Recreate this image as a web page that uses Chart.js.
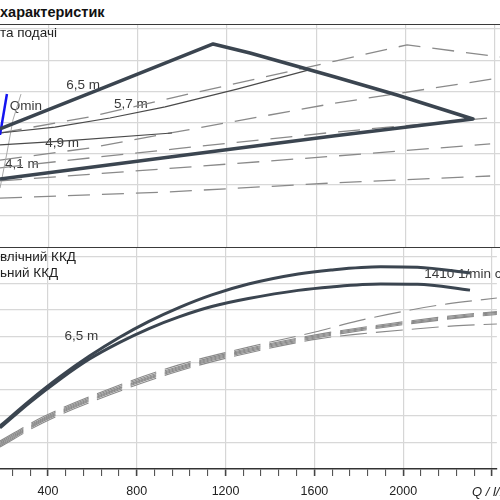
<!DOCTYPE html>
<html>
<head>
<meta charset="utf-8">
<script src="https://cdn.jsdelivr.net/npm/chart.js@4.4.0/dist/chart.umd.min.js"></script>
<style>
  html, body { margin:0; padding:0; background:#fff; overflow:hidden; }
  #wrap { position:relative; width:500px; height:500px; overflow:hidden; font-family:"Liberation Sans", Arial, sans-serif; color:#222; }
  .txt { position:absolute; white-space:nowrap; font-size:13.5px; line-height:14px; }
  .rule { position:absolute; left:0; width:500px; height:1.5px; background:#3a3a3a; }
  #top { position:absolute; left:0; top:24px; width:500px; height:223px; }
  #bot { position:absolute; left:0; top:247px; width:500px; height:253px; }
</style>
</head>
<body>
<div id="wrap">
  <div id="top"><canvas id="upper"></canvas></div>
  <div id="bot"><canvas id="lower"></canvas></div>
  <div class="txt" style="left:0;top:4px;font-size:14.5px;line-height:16px;font-weight:bold;color:#111">характеристик</div>
  <div class="rule" style="top:23.5px"></div>
  <div class="txt" style="left:0;top:26px">та подачі</div>
  <div class="rule" style="top:246.5px"></div>
  <div class="txt" style="left:0;top:250px">влічний ККД</div>
  <div class="txt" style="left:0;top:266px">ьний ККД</div>
  <div class="txt" style="left:472px;top:485px;font-size:13px;font-style:italic">Q / l/min</div>
</div>
<script>
// x axis (Q, l/min)
var qTicks = [240, 320, 400, 480, 560, 640, 720, 800, 880, 960, 1040, 1120, 1200, 1280,
              1360, 1440, 1520, 1600, 1680, 1760, 1840, 1920, 2000, 2080, 2160, 2240, 2320, 2400];
var qLabels = ['400', '800', '1200', '1600', '2000'];
var upperTicks = [0, 1, 2, 3, 4, 5, 6, 7];
var lowerTicks = [0, 10, 20, 30, 40, 50, 60, 70, 80];

// upper panel - operating field (thick outline)
var envQ = [184, 632, 1138, 1303, 1684, 1961, 2301, 1684, 945, 184];
var envP = [3.79, 5.07, 6.52, 6.23, 5.46, 4.88, 4.11, 3.57, 2.89, 2.18];

// Qmin
var qminBlueQ = [184, 215];
var qminBlueP = [3.60, 4.91];
var qminGrayQ = [278, 242, 215, 184];
var qminGrayP = [4.91, 4.08, 3.02, 1.89];

// 5,7 m and 4,9 m (solid)
var h57Q = [184, 430, 676, 923, 1245, 1563];
var h57P = [3.66, 3.85, 4.14, 4.50, 5.07, 5.68];
var h49Q = [184, 462, 954];
var h49P = [3.28, 3.40, 3.66];

// dashed curves
var d1Q = [184, 587, 954, 1549, 1684, 2006, 2422];
var d1P = [3.66, 4.18, 4.79, 5.75, 5.97, 6.49, 6.10];
var d2Q = [184, 587, 923, 1684, 2422];
var d2P = [2.79, 3.18, 3.63, 4.62, 5.43];
var d3Q = [184, 587, 967, 1684, 2364];
var d3P = [2.54, 2.86, 3.15, 3.69, 4.14];
var d4Q = [184, 976, 1684, 2378];
var d4P = [2.12, 2.54, 2.92, 3.31];
var d5Q = [184, 945, 1684, 2378];
var d5P = [1.57, 1.77, 2.06, 2.28];

// lower panel - ККД, %
var eQ = [184, 318, 453, 587, 721, 855, 990, 1138, 1303, 1527, 1675, 1899, 2064, 2301];
var etaHyd = [16.2, 25.8, 34.7, 42.6, 49.6, 55.7, 60.9, 65.7, 69.8, 73.6, 75.1, 76.3, 76.1, 74.0];
var etaTot = [15.5, 25.1, 33.8, 41.5, 47.7, 53.0, 57.4, 61.3, 64.3, 67.4, 68.7, 69.8, 69.7, 67.5];

var l1Q = [184, 376, 676, 990, 1303, 1603, 1796, 2033, 2199, 2422];
var l1E = [10.6, 19.6, 30.2, 39.3, 46.0, 51.7, 55.9, 60.0, 62.3, 64.5];
var bQ = [184, 376, 676, 990, 1303, 1617, 1943, 2275, 2422];
var l2E = [10.1, 19.1, 29.7, 38.7, 45.5, 50.8, 54.9, 58.3, 59.4];
var l3E = [9.6, 18.7, 29.2, 38.3, 45.1, 50.4, 54.5, 57.9, 59.1];
var l4E = [9.2, 18.3, 28.9, 37.9, 44.7, 50.0, 54.2, 57.5, 58.7];
var l5E = [8.8, 17.9, 28.5, 37.5, 44.3, 49.6, 53.8, 57.2, 58.3];
var l6Q = [184, 376, 676, 990, 1303, 1617, 1796, 2051, 2230, 2422];
var l6E = [8.3, 17.4, 27.9, 37.0, 43.8, 49.1, 50.9, 52.8, 54.0, 54.7];

// labels [text, Q, value, align]
var upperLabels = [['6,5 m', 556, 5.20], ['5,7 m', 770, 4.59], ['Qmin', 300, 4.53],
                   ['4,9 m', 462, 3.34], ['4,1 m', 282, 2.67]];
var lowerLabels = [['6,5 m', 551, 50.2], ['1410 1/min c', 2095, 73.6, 'left']];

var DARK = '#3b4550';
var DASH = '#8a8a8a';
var FONT = '"Liberation Sans", Arial, sans-serif';

function pts(qs, vs) {
	return qs.map(function(q, i) { return {x: q, y: vs[i]}; });
}

function line(qs, vs, color, width, dash, smooth) {
	return {
		data: pts(qs, vs),
		borderColor: color,
		borderWidth: width,
		borderDash: dash || [],
		borderJoinStyle: 'round',
		pointRadius: 0,
		fill: false,
		tension: 0,
		cubicInterpolationMode: smooth ? 'monotone' : 'default'
	};
}

function labelPlugin(items) {
	return {
		id: 'labels',
		beforeDatasetsDraw: function(chart) {
			var ctx = chart.ctx, xs = chart.scales.x, ys = chart.scales.y;
			ctx.save();
			ctx.font = '13.5px ' + FONT;
			ctx.fillStyle = '#3a3a3a';
			ctx.textBaseline = 'middle';
			items.forEach(function(it) {
				ctx.textAlign = it[3] || 'center';
				ctx.fillText(it[0], xs.getPixelForValue(it[1]), ys.getPixelForValue(it[2]));
			});
			ctx.restore();
		}
	};
}

function isMajor(c) {
	return c.tick && c.tick.value % 400 === 0;
}
function majorGrid(c) {
	return isMajor(c) ? '#d6d6d6' : 'rgba(0,0,0,0)';
}
function hGrid(c) {
	return c.tick && c.tick.value === 0 ? 'rgba(0,0,0,0)' : '#d8d8d8';
}
function setTicks(list) {
	return function(s) { s.ticks = list.map(function(v) { return {value: v}; }); };
}

Chart.defaults.font.family = FONT;

// upper chart
new Chart(document.getElementById('upper').getContext('2d'), {
	type: 'line',
	data: {
		datasets: [
			line(envQ, envP, DARK, 3.5),
			line(qminBlueQ, qminBlueP, '#1414f0', 2.5),
			line(h57Q, h57P, '#4a4a4a', 1.1),
			line(h49Q, h49P, '#4a4a4a', 1.1),
			line(qminGrayQ, qminGrayP, '#a8a8a8', 1),
			line(d1Q, d1P, DASH, 1.3, [22, 12]),
			line(d2Q, d2P, DASH, 1.3, [22, 12]),
			line(d3Q, d3P, DASH, 1.3, [22, 12]),
			line(d4Q, d4P, DASH, 1.3, [22, 12]),
			line(d5Q, d5P, DASH, 1.3, [22, 12])
		]
	},
	options: {
		responsive: true,
		maintainAspectRatio: false,
		animation: false,
		layout: { padding: 0, autoPadding: false },
		plugins: { legend: { display: false }, tooltip: { enabled: false } },
		scales: {
			x: {
				type: 'linear', min: 184, max: 2422,
				afterBuildTicks: setTicks(qTicks),
				afterFit: function(s) { s.height = 0; },
				ticks: { display: false },
				grid: { color: majorGrid, drawTicks: false, lineWidth: 1.2 },
				border: { display: false }
			},
			y: {
				type: 'linear', min: 0, max: 7.16,
				afterBuildTicks: setTicks(upperTicks),
				afterFit: function(s) { s.width = 0; },
				ticks: { display: false },
				grid: { color: hGrid, drawTicks: false, lineWidth: 1.2 },
				border: { display: false }
			}
		}
	},
	plugins: [labelPlugin(upperLabels)]
});

// lower chart
new Chart(document.getElementById('lower').getContext('2d'), {
	type: 'line',
	data: {
		datasets: [
			line(eQ, etaHyd, DARK, 3, null, true),
			line(eQ, etaTot, DARK, 3, null, true),
			line(l1Q, l1E, DASH, 1.1, [27, 9], true),
			line(bQ, l2E, DASH, 1.1, [27, 9], true),
			line(bQ, l3E, DASH, 1.1, [27, 9], true),
			line(bQ, l4E, DASH, 1.1, [27, 9], true),
			line(bQ, l5E, DASH, 1.1, [27, 9], true),
			line(l6Q, l6E, DASH, 1.1, [27, 9], true)
		]
	},
	options: {
		responsive: true,
		maintainAspectRatio: false,
		animation: false,
		layout: { padding: 0, autoPadding: false },
		plugins: { legend: { display: false }, tooltip: { enabled: false } },
		scales: {
			x: {
				type: 'linear', min: 184, max: 2422,
				afterBuildTicks: setTicks(qTicks),
				afterFit: function(s) { s.height = 31; },
				ticks: {
					autoSkip: false, maxRotation: 0, minRotation: 0, padding: 8,
					color: '#222', font: { size: 12.5 },
					callback: function(v) { return qLabels.indexOf(String(v)) >= 0 ? String(v) : ''; }
				},
				grid: {
					color: majorGrid, tickColor: '#444', tickLength: 7, lineWidth: 1.2,
					tickWidth: function(c) { return isMajor(c) ? 1.6 : 1; }
				},
				border: { color: '#333', width: 1.5 }
			},
			y: {
				type: 'linear', min: 0, max: 83.77,
				afterBuildTicks: setTicks(lowerTicks),
				afterFit: function(s) { s.width = 0; },
				ticks: { display: false },
				grid: { color: hGrid, drawTicks: false, lineWidth: 1.2 },
				border: { display: false }
			}
		}
	},
	plugins: [labelPlugin(lowerLabels)]
});
</script>
</body>
</html>
